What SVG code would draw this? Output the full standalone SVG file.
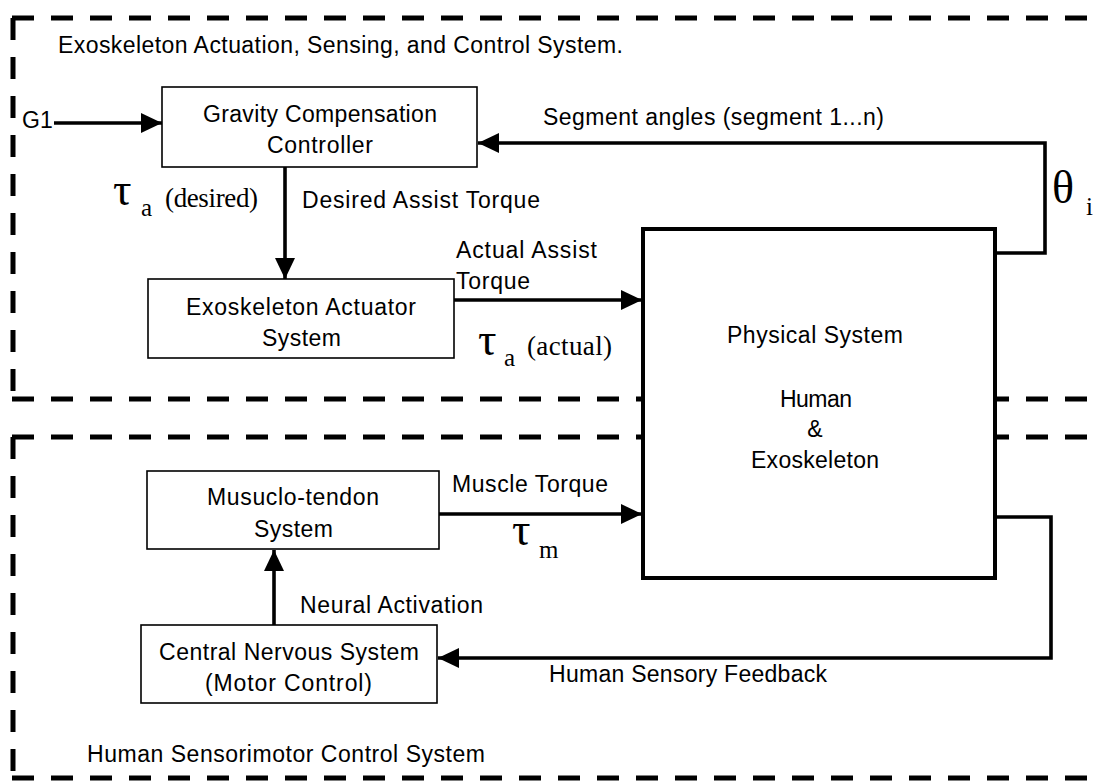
<svg xmlns="http://www.w3.org/2000/svg" width="1097" height="782" viewBox="0 0 1097 782">
<style>
.bg{fill:#fff}
.dash{stroke:#000;stroke-width:5;stroke-dasharray:22 17;fill:none}
.box{fill:#fff;stroke:#000;stroke-width:1.6}
.pbox{fill:#fff;stroke:#000;stroke-width:4}
.con{stroke:#000;stroke-width:3.6;fill:none}
.t{font-family:"Liberation Sans",Arial,sans-serif;font-size:23px;fill:#000}
.g{font-family:"Liberation Serif","Times New Roman",serif;fill:#000}
</style>
<defs>
<marker id="ah" markerUnits="userSpaceOnUse" markerWidth="22" markerHeight="22" refX="21" refY="10" orient="auto">
<path d="M0,0 L21,10 L0,20 z" fill="#000"/>
</marker>
</defs>
<rect class="bg" x="0" y="0" width="1097" height="782"/>

<g id="region-exo">
<line class="dash" x1="12" y1="18" x2="1097" y2="18"/>
<line class="dash" x1="13" y1="18" x2="13" y2="395"/>
<line class="dash" x1="12" y1="399" x2="1097" y2="399"/>
<text class="t" x="58" y="53" textLength="565">Exoskeleton Actuation, Sensing, and Control System.</text>
</g>

<g id="region-human">
<line class="dash" x1="12" y1="437" x2="1097" y2="437"/>
<line class="dash" x1="13" y1="437" x2="13" y2="775"/>
<line class="dash" x1="12" y1="778" x2="1097" y2="778"/>
<text class="t" x="87" y="762" textLength="398">Human Sensorimotor Control System</text>
</g>

<g id="connectors">
<line class="con" x1="54" y1="123" x2="162" y2="123" marker-end="url(#ah)"/>
<line class="con" x1="285" y1="167" x2="285" y2="279" marker-end="url(#ah)"/>
<line class="con" x1="454" y1="300" x2="642" y2="300" marker-end="url(#ah)"/>
<polyline class="con" points="995,253 1045,253 1045,143 478,143" marker-end="url(#ah)"/>
<line class="con" x1="439" y1="514" x2="642" y2="514" marker-end="url(#ah)"/>
<line class="con" x1="274" y1="625" x2="274" y2="550" marker-end="url(#ah)"/>
<polyline class="con" points="995,517 1051,517 1051,658 438,658" marker-end="url(#ah)"/>
</g>

<g id="labels">
<text class="t" x="22" y="128" font-size="22">G1</text>
<text class="t" x="302" y="208" textLength="238">Desired Assist Torque</text>
<text class="t" x="456" y="258" textLength="141">Actual Assist</text>
<text class="t" x="456" y="289" textLength="74">Torque</text>
<text class="t" x="543" y="125" textLength="341">Segment angles (segment 1...n)</text>
<text class="t" x="452" y="492" textLength="156">Muscle Torque</text>
<text class="t" x="300" y="613" textLength="183">Neural Activation</text>
<text class="t" x="549" y="682" textLength="278">Human Sensory Feedback</text>
<text class="g" x="113" y="205" font-size="46">τ</text>
<text class="g" x="141" y="216" font-size="25">a</text>
<text class="g" x="165" y="207" font-size="27" textLength="93">(desired)</text>
<text class="g" x="478" y="355" font-size="46">τ</text>
<text class="g" x="504" y="366" font-size="25">a</text>
<text class="g" x="527" y="355" font-size="27" textLength="85">(actual)</text>
<text class="g" x="512" y="545" font-size="46">τ</text>
<text class="g" x="539" y="558" font-size="25">m</text>
<text class="g" x="1052" y="203" font-size="46">θ</text>
<text class="g" x="1086" y="215" font-size="25">i</text>
</g>

<g id="node-gravity">
<rect class="box" x="162" y="87" width="315" height="80"/>
<text class="t" x="203" y="122" textLength="234">Gravity Compensation</text>
<text class="t" x="267" y="153" textLength="106">Controller</text>
</g>

<g id="node-actuator">
<rect class="box" x="148" y="279" width="306" height="79"/>
<text class="t" x="186" y="315" textLength="230">Exoskeleton Actuator</text>
<text class="t" x="262" y="346" textLength="79">System</text>
</g>

<g id="node-physical">
<rect class="pbox" x="643" y="229" width="352" height="349"/>
<text class="t" x="727" y="343" textLength="176">Physical System</text>
<text class="t" x="780" y="407" textLength="72">Human</text>
<text class="t" x="815" y="437" text-anchor="middle">&amp;</text>
<text class="t" x="751" y="468" textLength="128">Exoskeleton</text>
</g>

<g id="node-musculo">
<rect class="box" x="147" y="471" width="292" height="78"/>
<text class="t" x="207" y="505" textLength="172">Musuclo-tendon</text>
<text class="t" x="254" y="537" textLength="79">System</text>
</g>

<g id="node-cns">
<rect class="box" x="141" y="625" width="296" height="78"/>
<text class="t" x="159" y="660" textLength="260">Central Nervous System</text>
<text class="t" x="205" y="691" textLength="167">(Motor Control)</text>
</g>
</svg>
